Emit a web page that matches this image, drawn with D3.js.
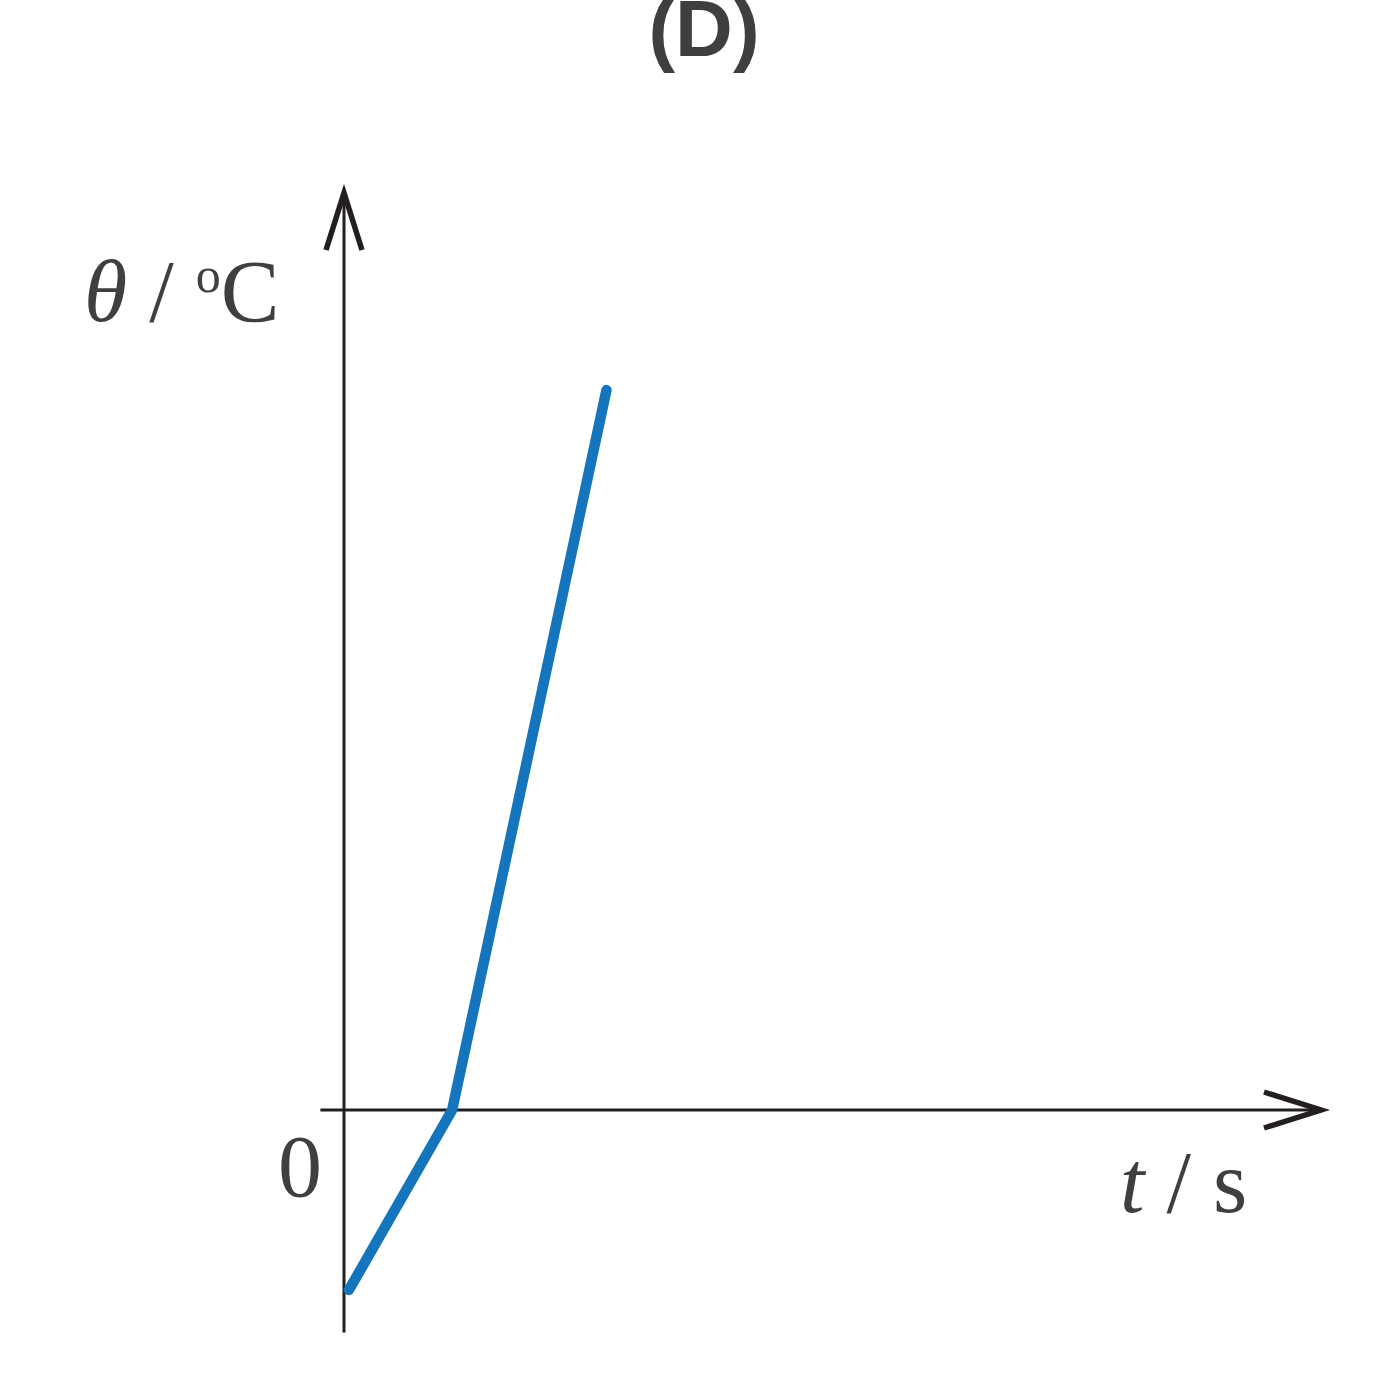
<!DOCTYPE html>
<html>
<head>
<meta charset="utf-8">
<script src="https://cdn.jsdelivr.net/npm/d3@7"></script>
<style>
  html, body { margin: 0; padding: 0; background: #fff; }
  svg { display: block; }
</style>
</head>
<body>
<div id="chart"></div>
<script>
// curve points: time (arbitrary units) and temperature
var times = [0.5, 11, 26.7];
var temps = [-19.5, 0, 78];
var xDomain = [0, 100];
var yDomain = [0, 100];
var xAxisExtent = [-2.4, 100];
var yAxisExtent = [-24.1, 100];
var title = "(D)";
var originLabel = "0";

var W = 1400, H = 1400;
var axisColor = "#231f20";
var textColor = "#3f3f41";
var lineColor = "#1475bd";

var svg = d3.select("#chart").append("svg")
  .attr("width", W)
  .attr("height", H);

var x = d3.scaleLinear().domain(xDomain).range([344, 1327]);
var y = d3.scaleLinear().domain(yDomain).range([1110, 187]);

// title (partly off the top edge, as in the original)
svg.append("text")
  .attr("x", 704)
  .attr("y", 56)
  .attr("text-anchor", "middle")
  .attr("font-family", "'Liberation Sans', Arial, sans-serif")
  .attr("font-weight", "bold")
  .attr("font-size", 80)
  .attr("fill", textColor)
  .text(title);

// axes
var ax = svg.append("g")
  .attr("stroke", axisColor)
  .attr("fill", "none");

ax.append("line")
  .attr("x1", x(xAxisExtent[0])).attr("x2", x(xAxisExtent[1]) - 4)
  .attr("y1", y(0)).attr("y2", y(0))
  .attr("stroke-width", 3);

ax.append("line")
  .attr("x1", x(0)).attr("x2", x(0))
  .attr("y1", y(yAxisExtent[0])).attr("y2", y(yAxisExtent[1]) + 4)
  .attr("stroke-width", 3);

// arrow heads (tip pulled in so the miter ends at the axis end)
var xt = x(xAxisExtent[1]) - 6, yt = y(yAxisExtent[1]) + 6;
ax.append("path")
  .attr("d", "M" + (xt - 57) + "," + (y(0) - 18) + "L" + xt + "," + y(0) + "L" + (xt - 57) + "," + (y(0) + 18))
  .attr("stroke-width", 5.5)
  .attr("stroke-linejoin", "miter");
ax.append("path")
  .attr("d", "M" + (x(0) - 18) + "," + (yt + 57) + "L" + x(0) + "," + yt + "L" + (x(0) + 18) + "," + (yt + 57))
  .attr("stroke-width", 5.5)
  .attr("stroke-linejoin", "miter");

// curve
var line = d3.line()
  .x(function(d, i) { return x(times[i]); })
  .y(function(d) { return y(d); });

svg.append("path")
  .datum(temps)
  .attr("d", line)
  .attr("fill", "none")
  .attr("stroke", lineColor)
  .attr("stroke-width", 10.5)
  .attr("stroke-linecap", "round")
  .attr("stroke-linejoin", "round");

// labels
var serif = "'Liberation Serif', 'Times New Roman', serif";

var yl = svg.append("text")
  .attr("x", 84)
  .attr("y", 321)
  .attr("font-family", serif)
  .attr("font-size", 88)
  .attr("fill", textColor);
yl.append("tspan").attr("font-style", "italic").text("θ");
yl.append("tspan").text(" / ");
yl.append("tspan").attr("font-size", 50).attr("dy", -29).text("o");
yl.append("tspan").attr("dy", 29).text("C");

var xl = svg.append("text")
  .attr("x", 1120)
  .attr("y", 1212)
  .attr("font-family", serif)
  .attr("font-size", 88)
  .attr("fill", textColor);
xl.append("tspan").attr("font-style", "italic").text("t");
xl.append("tspan").text(" / s");

svg.append("text")
  .attr("x", 300)
  .attr("y", 1196)
  .attr("text-anchor", "middle")
  .attr("font-family", serif)
  .attr("font-size", 88)
  .attr("fill", textColor)
  .text(originLabel);
</script>
</body>
</html>
